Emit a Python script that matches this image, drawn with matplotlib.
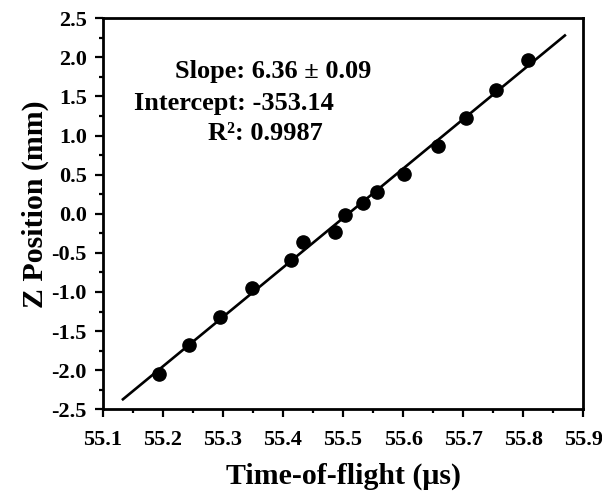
import numpy as np
import matplotlib
matplotlib.use("Agg")
import matplotlib.pyplot as plt
from matplotlib.ticker import MultipleLocator, FormatStrFormatter

# Data
tof_us = [55.194, 55.243, 55.296, 55.349, 55.414, 55.434, 55.487, 55.504,
          55.533, 55.556, 55.602, 55.658, 55.704, 55.755, 55.808]
z_mm = [-2.044, -1.678, -1.316, -0.945, -0.587, -0.361, -0.229, -0.009,
        0.132, 0.278, 0.509, 0.873, 1.228, 1.588, 1.965]
fit_range = [55.132, 55.871]

annotations = ["Slope: 6.36 \u00b1 0.09", "Intercept: -353.14", "R\u00b2: 0.9987"]

plt.rcParams['font.family'] = ['Liberation Serif', 'DejaVu Serif']
plt.rcParams['font.weight'] = 'bold'

fig = plt.figure(figsize=(6.02, 4.93), dpi=100)
ax = fig.add_axes([102.7 / 602, 1 - 409.3 / 493, (583.3 - 102.7) / 602, (409.3 - 18.3) / 493])

coef = np.polyfit(tof_us, z_mm, 1)
xf = np.array(fit_range)
ax.plot(xf, np.polyval(coef, xf), color='black', lw=1.9, solid_capstyle='butt')
ax.plot(tof_us, z_mm, 'o', color='black', ms=9.5, mec='black')

ax.set_xlim(55.1, 55.9)
ax.set_ylim(-2.5, 2.5)
ax.xaxis.set_major_locator(MultipleLocator(0.1))
ax.xaxis.set_minor_locator(MultipleLocator(0.05))
ax.yaxis.set_major_locator(MultipleLocator(0.5))
ax.yaxis.set_minor_locator(MultipleLocator(0.25))
ax.xaxis.set_major_formatter(FormatStrFormatter('%.1f'))
ax.yaxis.set_major_formatter(FormatStrFormatter('%.1f'))

for s in ax.spines.values():
    s.set_linewidth(2.0)
ax.tick_params(which='major', direction='out', length=5.5, width=1.6, labelsize=16)
ax.tick_params(axis='x', which='major', pad=9.5)
ax.tick_params(axis='y', which='major', pad=6)
ax.tick_params(which='minor', direction='out', length=3, width=1.6)
ax.tick_params(top=False, right=False, which='both')
for lbl in ax.get_xticklabels() + ax.get_yticklabels():
    lbl.set_fontweight('bold')

ax.set_xlabel('Time-of-flight (\u03bcs)', fontsize=21.5, fontweight='bold')
ax.set_ylabel('Z Position (mm)', fontsize=21.5, fontweight='bold')
ax.xaxis.label.set_va('center')
ax.yaxis.label.set_va('center')
ax.xaxis.set_label_coords(0.5, -0.172)
ax.yaxis.set_label_coords(-0.141, 0.525)

ann_x = [55.22, 55.152, 55.276]
ann_y = [1.815, 1.415, 1.03]
for t, x, y in zip(annotations, ann_x, ann_y):
    ax.text(x, y, t, fontsize=19, fontweight='bold', ha='left', va='center')

fig.savefig('out.png', dpi=100)
